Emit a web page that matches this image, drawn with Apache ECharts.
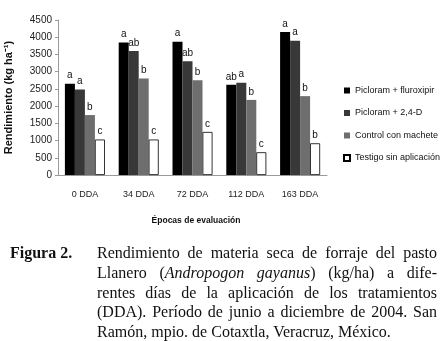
<!DOCTYPE html>
<html>
<head>
<meta charset="utf-8">
<script src="https://cdn.jsdelivr.net/npm/echarts@6/dist/echarts.min.js"></script>
<style>
  body { margin: 0; background: #fff; }
  #wrap { position: relative; width: 443px; height: 341px; overflow: hidden; }
  #chart { position: absolute; left: 0; top: 0; width: 443px; height: 341px; }
  .cap { position: absolute; font-family: "Liberation Serif", "Times New Roman", serif; font-size: 16px; color: #111; line-height: 19.75px; }
  .fig { left: 10px; top: 243px; font-weight: bold; }
  .txt { left: 97px; top: 243px; width: 340px; }
  .txt div { text-align: justify; text-align-last: justify; white-space: nowrap; }
  .txt div.last { text-align-last: left; }
</style>
</head>
<body>
<div id="wrap">
  <div id="chart"></div>
  <div class="cap fig">Figura 2.</div>
  <div class="cap txt">
    <div>Rendimiento de materia seca de forraje del pasto</div>
    <div>Llanero (<i>Andropogon gayanus</i>) (kg/ha) a dife-</div>
    <div>rentes días de la aplicación de los tratamientos</div>
    <div>(DDA). Período de junio a diciembre de 2004. San</div>
    <div class="last">Ramón, mpio. de Cotaxtla, Veracruz, México.</div>
  </div>
</div>
<script>
var categories = ['0 DDA', '34 DDA', '72 DDA', '112 DDA', '163 DDA'];
var seriesNames = ['Picloram + fluroxipir', 'Picloram + 2,4-D', 'Control con machete', 'Testigo sin aplicación'];
var fluroxipir = [2650, 3850, 3870, 2620, 4150];
var picloram24d = [2480, 3600, 3300, 2680, 3900];
var machete = [1740, 2800, 2750, 2180, 2290];
var testigo = [1030, 1030, 1250, 660, 920];
var letters = [
  ['a', 'a', 'a', 'ab', 'a'],
  ['a', 'ab', 'ab', 'a', 'a'],
  ['b', 'b', 'b', 'b', 'b'],
  ['c', 'c', 'c', 'c', 'b']
];
var colors = ['#000000', '#383838', '#6e6e6e', '#ffffff'];

var sans = '"Liberation Sans", Arial, sans-serif';
var values = [fluroxipir, picloram24d, machete, testigo];

var chart = echarts.init(document.getElementById('chart'));
chart.setOption({
  animation: false,
  textStyle: { fontFamily: sans },
  grid: { left: 58, right: 116, top: 20, bottom: 166, outerBoundsMode: 'none' },
  legend: {
    orient: 'vertical',
    left: 343,
    top: 86,
    padding: 0,
    itemWidth: 6,
    itemHeight: 6,
    itemGap: 13.5,
    icon: 'rect',
    textStyle: { fontFamily: sans, fontSize: 9, color: '#111' },
    data: seriesNames
  },
  xAxis: {
    type: 'category',
    data: categories,
    name: 'Épocas de evaluación',
    nameLocation: 'middle',
    nameGap: 41,
    nameTextStyle: { fontFamily: sans, fontSize: 8.5, fontWeight: 'bold', color: '#111', padding: [0, 0, 0, 7] },
    axisLine: { lineStyle: { color: '#999' } },
    axisTick: { show: false },
    axisLabel: { interval: 0, margin: 15, fontSize: 9, color: '#222' }
  },
  yAxis: {
    type: 'value',
    min: 0,
    max: 4500,
    interval: 500,
    name: 'Rendimiento (kg ha⁻¹)',
    nameLocation: 'middle',
    nameGap: 44,
    nameTextStyle: { fontFamily: sans, fontSize: 11, fontWeight: 'bold', color: '#111' },
    axisLine: { show: true, lineStyle: { color: '#999' } },
    axisTick: { show: true, length: 3, lineStyle: { color: '#999' } },
    splitLine: { show: false },
    axisLabel: { margin: 6, fontSize: 10, color: '#222', formatter: function (v) { return String(v); } }
  },
  series: values.map(function (v, i) {
    return {
      name: seriesNames[i],
      type: 'bar',
      barWidth: 10,
      barGap: '0%',
      data: v,
      itemStyle: { color: colors[i], borderColor: i === 3 ? '#000' : colors[i], borderWidth: i === 3 ? 0.8 : 0 },
      label: {
        show: true,
        position: 'top',
        distance: 3,
        fontFamily: sans,
        fontSize: 10,
        color: '#111',
        formatter: function (p) { return letters[i][p.dataIndex]; }
      }
    };
  })
});
</script>
</body>
</html>
